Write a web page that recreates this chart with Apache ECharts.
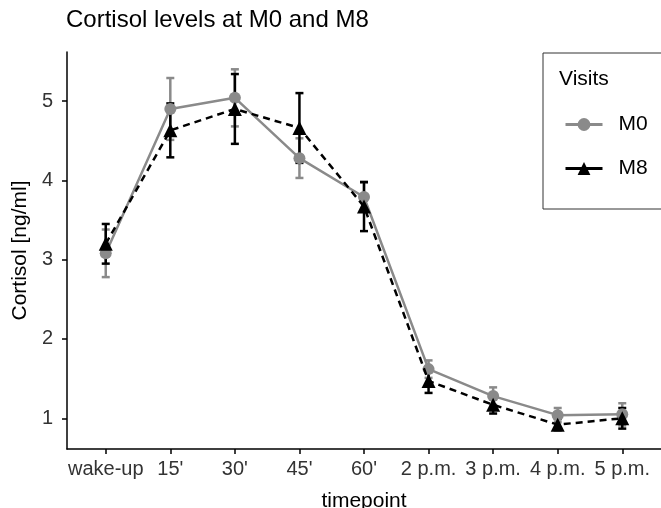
<!DOCTYPE html>
<html>
<head>
<meta charset="utf-8">
<script src="https://cdn.jsdelivr.net/npm/echarts@6/dist/echarts.min.js"></script>
<style>html,body{margin:0;padding:0;background:#fff}#chart{width:661px;height:508px}</style>
</head>
<body>
<div id="chart"></div>
<script>
const timepoints = ["wake-up", "15'", "30'", "45'", "60'", "2 p.m.", "3 p.m.", "4 p.m.", "5 p.m."]
const m0Mean = [3.08, 4.90, 5.04, 4.28, 3.79, 1.62, 1.28, 1.04, 1.05]
const m0Se = [0.30, 0.39, 0.36, 0.25, 0.18, 0.11, 0.11, 0.09, 0.14]
const m8Mean = [3.20, 4.63, 4.90, 4.66, 3.67, 1.47, 1.17, 0.92, 1.00]
const m8Se = [0.25, 0.34, 0.44, 0.44, 0.31, 0.15, 0.11, 0.07, 0.13]
const yTicks = [1, 2, 3, 4, 5]

const font = 'Liberation Sans, Arial, sans-serif'
const xTicks = timepoints.map((t, i) => i)
const grey = '#8a8a8a'

const errorBars = color => (params, api) => {
  const x = api.value(0), m = api.value(1), se = api.value(2)
  const top = api.coord([x, m + se])
  const bot = api.coord([x, m - se])
  const w = 4
  const style = {stroke: color, lineWidth: 2.5}
  return {type: 'group', children: [
    {type: 'line', shape: {x1: top[0], y1: top[1], x2: bot[0], y2: bot[1]}, style},
    {type: 'line', shape: {x1: top[0] - w, y1: top[1], x2: top[0] + w, y2: top[1]}, style},
    {type: 'line', shape: {x1: bot[0] - w, y1: bot[1], x2: bot[0] + w, y2: bot[1]}, style}
  ]}
}

const chart = echarts.init(document.getElementById('chart'))
const option = {
  animation: false,
  textStyle: {fontFamily: font},
  title: [
    {text: 'Cortisol levels at M0 and M8', left: 66, top: 8, padding: 0,
     textStyle: {fontSize: 24, fontWeight: 'normal', color: '#000', fontFamily: font}},
    {text: 'Visits', left: 559, top: 69, padding: 0,
     textStyle: {fontSize: 21, fontWeight: 'normal', color: '#000', fontFamily: font}}
  ],
  grid: {left: 67, right: 0, top: 52, bottom: 59, containLabel: false, outerBoundsMode: 'none'},
  legend: {
    data: ['M0', 'M8'], orient: 'vertical', left: 543, top: 53,
    padding: [61, 16, 30, 21], itemGap: 23, itemWidth: 37, itemHeight: 16,
    borderColor: '#333', borderWidth: 1,
    lineStyle: {type: 'solid', width: 3},
    textStyle: {fontSize: 21, color: '#000', fontFamily: font, padding: [0, 0, 0, 11]}
  },
  xAxis: {
    type: 'value', min: -0.6, max: 8.6,
    name: 'timepoint', nameLocation: 'middle', nameGap: 42,
    nameTextStyle: {fontSize: 21, color: '#000', fontFamily: font},
    axisLine: {show: true, onZero: false, lineStyle: {color: '#000', width: 1.5}},
    axisTick: {show: true, length: 5, customValues: xTicks, lineStyle: {color: '#000', width: 1.5}},
    axisLabel: {customValues: xTicks, formatter: v => timepoints[v], fontSize: 20, color: '#333', margin: 10, fontFamily: font},
    splitLine: {show: false}
  },
  yAxis: {
    type: 'value', min: 0.613, max: 5.618,
    name: 'Cortisol [ng/ml]', nameLocation: 'middle', nameGap: 33, nameRotate: 90,
    nameTextStyle: {fontSize: 21, color: '#000', fontFamily: font},
    axisLine: {show: true, onZero: false, lineStyle: {color: '#000', width: 1.5}},
    axisTick: {show: true, length: 5, customValues: yTicks, lineStyle: {color: '#000', width: 1.5}},
    axisLabel: {customValues: yTicks, fontSize: 20, color: '#333', margin: 14, fontFamily: font},
    splitLine: {show: false}
  },
  series: [
    {name: 'M0 se', type: 'custom', renderItem: errorBars(grey), encode: {x: 0, y: 1},
     data: m0Mean.map((v, i) => [i, v, m0Se[i]]), z: 1},
    {name: 'M8 se', type: 'custom', renderItem: errorBars('#000'), encode: {x: 0, y: 1},
     data: m8Mean.map((v, i) => [i, v, m8Se[i]]), z: 2},
    {name: 'M0', type: 'line', data: m0Mean.map((v, i) => [i, v]), z: 3,
     symbol: 'circle', symbolSize: 12, color: grey,
     lineStyle: {color: grey, width: 2.5}, itemStyle: {color: grey}},
    {name: 'M8', type: 'line', data: m8Mean.map((v, i) => [i, v]), z: 4,
     symbol: 'triangle', symbolSize: 14, color: '#000',
     lineStyle: {color: '#000', width: 2.5, type: [7, 5]}, itemStyle: {color: '#000'}}
  ]
}
chart.setOption(option)
</script>
</body>
</html>
